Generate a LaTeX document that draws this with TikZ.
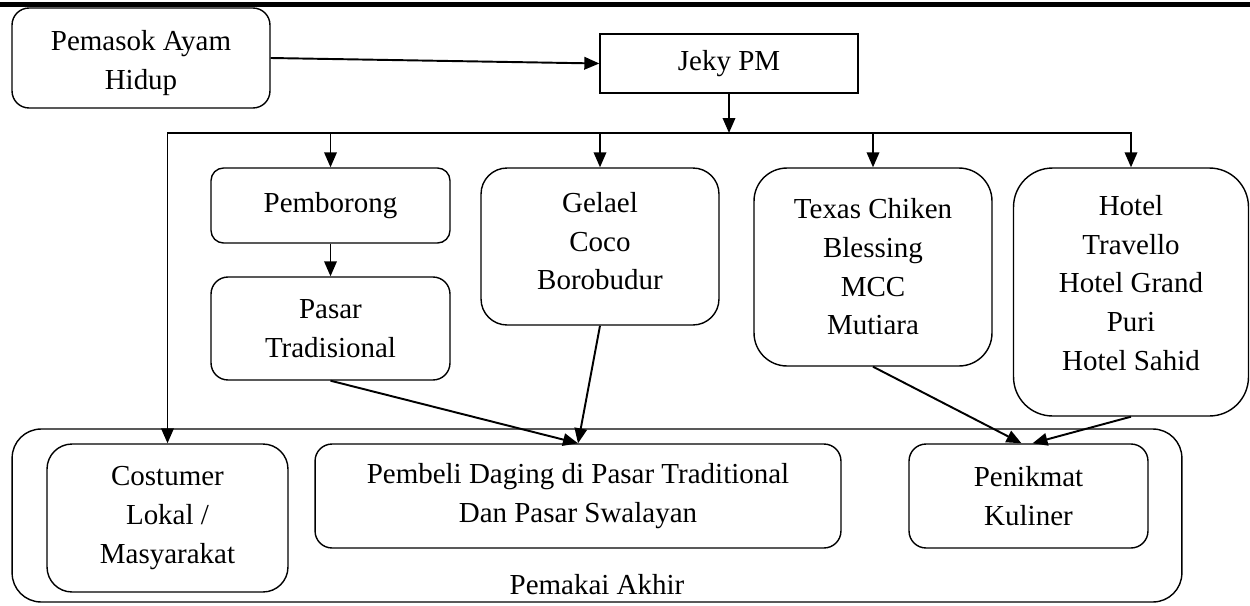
\documentclass[tikz,border=0pt]{standalone}
\usepackage{fontspec}
\setmainfont{Liberation Serif}
\usetikzlibrary{arrows.meta}
\newcommand\dfont{\fontsize{16.5}{22}\selectfont}
\newcommand\upby[2]{\raisebox{0pt}[\height][\dimexpr\depth+#1\relax]{\begin{tabular}{@{}c@{}}#2\end{tabular}}}
\newcommand\downby[2]{\raisebox{0pt}[\dimexpr\height+#1\relax][\depth]{\begin{tabular}{@{}c@{}}#2\end{tabular}}}
\begin{document}
\begin{tikzpicture}[x=0.02cm,y=-0.02cm,
  box/.style={draw, line width=0.8pt, rounded corners=#1, align=center, inner sep=0pt, font=\dfont},
  box/.default=0.34cm,
  sharpbox/.style={draw, line width=0.8pt, align=center, inner sep=0pt, font=\dfont},
  conn/.style={line width=1.1pt, -{Triangle[length=0.3cm,width=0.25cm]}},
  lbl/.style={font=\dfont, inner sep=0pt}]
\useasboundingbox (0,0) rectangle (1250,605);
\draw[line width=2.4pt] (0,4.5) -- (1250,4.5);

\node[box=0.34cm, minimum width=5.16cm, minimum height=2cm] (pem) at (141,58) {\downby{0.16cm}{Pemasok Ayam\\Hidup}};
\node[sharpbox, minimum width=5.16cm, minimum height=1.18cm] (jeky) at (729,63.5) {Jeky PM};
\node[box=0.25cm, minimum width=4.78cm, minimum height=1.5cm] (pemb) at (330.5,205.5) {Pemborong};
\node[box=0.34cm, minimum width=4.78cm, minimum height=2.06cm] (pasar) at (330.5,328.5) {Pasar\\Tradisional};
\node[box=0.52cm, minimum width=4.76cm, minimum height=3.14cm] (gel) at (600,246.5) {\upby{0.12cm}{Gelael\\Coco\\Borobudur}};
\node[box=0.66cm, minimum width=4.76cm, minimum height=3.96cm] (tex) at (873,267) {Texas Chiken\\Blessing\\MCC\\Mutiara};
\node[box=0.78cm, minimum width=4.7cm, minimum height=4.96cm] (hot) at (1131,292) {\upby{0.28cm}{Hotel\\Travello\\Hotel Grand\\Puri\\Hotel Sahid}};

\node[box=0.58cm, minimum width=23.4cm, minimum height=3.46cm] (akhir) at (597,515.5) {};
\node[lbl] (akhirlbl) at (597,585) {Pemakai Akhir};
\node[box=0.5cm, minimum width=4.82cm, minimum height=2.96cm] (cos) at (167.5,518) {Costumer\\Lokal /\\Masyarakat};
\node[box=0.34cm, minimum width=10.52cm, minimum height=2.08cm] (pbl) at (578,496) {Pembeli Daging di Pasar Traditional\\Dan Pasar Swalayan};
\node[box=0.34cm, minimum width=4.78cm, minimum height=2.08cm] (pen) at (1028.5,496) {Penikmat\\Kuliner};

\coordinate (busy) at (0,133);
\draw[conn] (pem.east) -- (jeky.west);
\draw[conn] (jeky.south) -- (jeky.south |- busy);
\draw[conn] (jeky.south |- busy) -| (cos.north);
\draw[conn] (jeky.south |- busy) -| (hot.north);
\draw[conn] (pemb.north |- busy) -- (pemb.north);
\draw[conn] (gel.north |- busy) -- (gel.north);
\draw[conn] (tex.north |- busy) -- (tex.north);
\draw[conn] (pemb.south) -- (pasar.north);
\draw[conn] (pasar.south) -- (pbl.north);
\draw[conn] (gel.south) -- (pbl.north);
\draw[conn] (tex.south) -- ([xshift=-0.14cm]pen.north);
\draw[conn] (hot.south) -- ([xshift=0.08cm]pen.north);
\end{tikzpicture}
\end{document}
